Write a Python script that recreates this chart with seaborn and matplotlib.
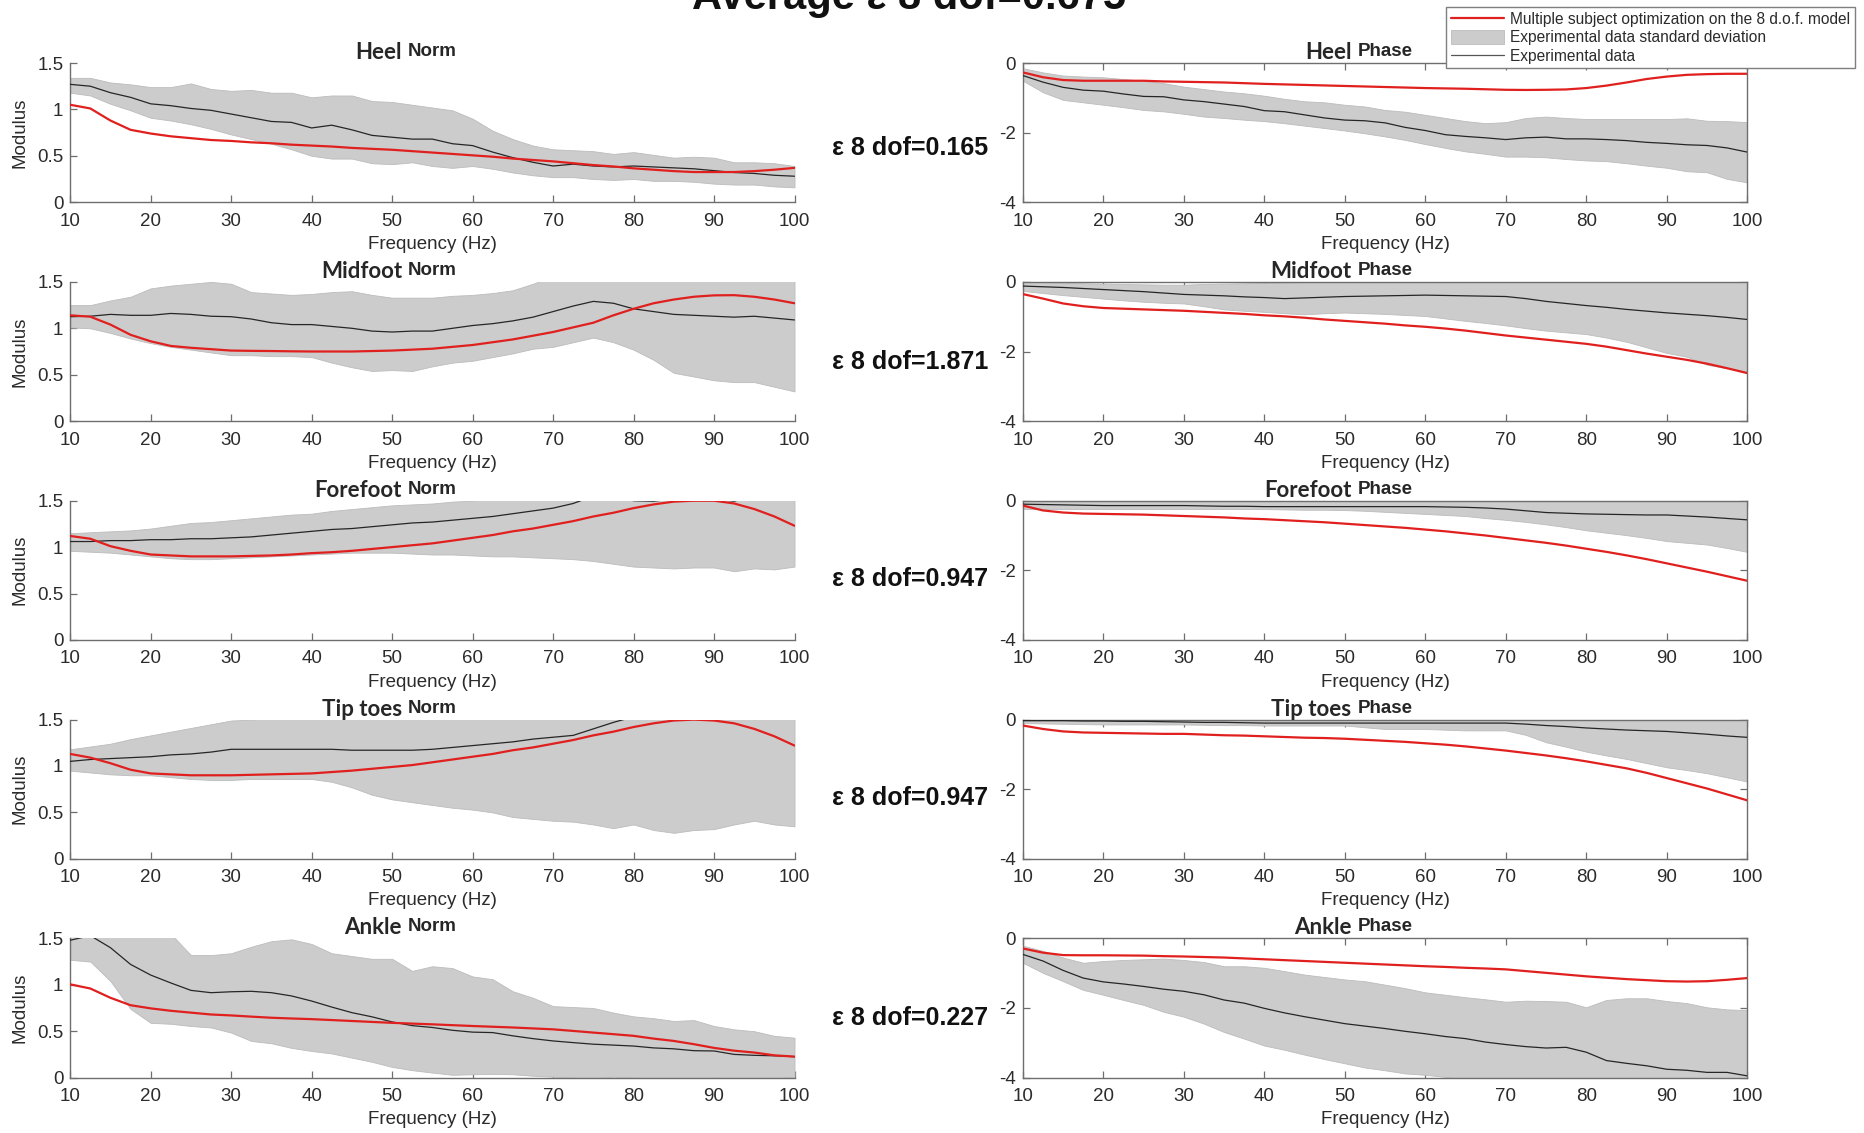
import matplotlib
matplotlib.use("Agg")
import matplotlib.pyplot as plt
from matplotlib.lines import Line2D
from matplotlib.patches import Patch
import pandas as pd
import seaborn as sns

# ---------------------------------------------------------------- data
freq = [10, 12.5, 15, 17.5, 20, 22.5, 25, 27.5, 30, 32.5, 35, 37.5, 40, 42.5,
        45, 47.5, 50, 52.5, 55, 57.5, 60, 62.5, 65, 67.5, 70, 72.5, 75, 77.5,
        80, 82.5, 85, 87.5, 90, 92.5, 95, 97.5, 100]

regions = ["Heel", "Midfoot", "Forefoot", "Tip toes", "Ankle"]
eps_values = ["0.165", "1.871", "0.947", "0.947", "0.227"]
eps_average = "0.675"

# Heel
heel_norm_mean = [1.27, 1.25, 1.18, 1.13, 1.06, 1.04, 1.01, 0.99, 0.95, 0.91, 0.87, 0.86, 0.80, 0.83, 0.78, 0.72, 0.70, 0.68, 0.68, 0.63, 0.61, 0.54, 0.48, 0.43, 0.39, 0.41, 0.39, 0.38, 0.39, 0.38, 0.37, 0.36, 0.34, 0.32, 0.31, 0.29, 0.28]
heel_norm_hi = [1.34, 1.34, 1.29, 1.27, 1.24, 1.24, 1.28, 1.22, 1.20, 1.21, 1.18, 1.18, 1.13, 1.15, 1.15, 1.09, 1.08, 1.05, 1.02, 0.99, 0.90, 0.77, 0.68, 0.61, 0.57, 0.56, 0.55, 0.52, 0.54, 0.51, 0.48, 0.49, 0.48, 0.43, 0.43, 0.42, 0.39]
heel_norm_lo = [1.18, 1.15, 1.06, 0.99, 0.91, 0.88, 0.84, 0.79, 0.73, 0.68, 0.63, 0.57, 0.50, 0.47, 0.47, 0.42, 0.41, 0.43, 0.39, 0.37, 0.39, 0.36, 0.32, 0.29, 0.27, 0.27, 0.25, 0.24, 0.25, 0.23, 0.23, 0.22, 0.20, 0.19, 0.19, 0.17, 0.16]
heel_norm_model = [1.05, 1.01, 0.88, 0.78, 0.74, 0.71, 0.69, 0.67, 0.66, 0.645, 0.635, 0.62, 0.61, 0.60, 0.585, 0.575, 0.565, 0.55, 0.535, 0.52, 0.505, 0.49, 0.47, 0.455, 0.44, 0.42, 0.40, 0.385, 0.365, 0.35, 0.335, 0.325, 0.325, 0.325, 0.335, 0.35, 0.37]
heel_phase_mean = [-0.36, -0.55, -0.70, -0.78, -0.81, -0.89, -0.96, -0.97, -1.06, -1.11, -1.18, -1.25, -1.37, -1.40, -1.49, -1.58, -1.64, -1.66, -1.72, -1.85, -1.94, -2.06, -2.11, -2.15, -2.20, -2.15, -2.13, -2.18, -2.18, -2.20, -2.23, -2.28, -2.31, -2.35, -2.37, -2.44, -2.56]
heel_phase_hi = [-0.15, -0.27, -0.36, -0.39, -0.41, -0.46, -0.51, -0.58, -0.68, -0.75, -0.82, -0.87, -0.94, -1.03, -1.10, -1.13, -1.20, -1.25, -1.35, -1.40, -1.49, -1.58, -1.67, -1.73, -1.70, -1.58, -1.54, -1.58, -1.61, -1.61, -1.61, -1.61, -1.61, -1.59, -1.66, -1.67, -1.70]
heel_phase_lo = [-0.51, -0.84, -1.06, -1.13, -1.20, -1.27, -1.35, -1.39, -1.46, -1.54, -1.58, -1.63, -1.67, -1.73, -1.80, -1.87, -1.94, -2.02, -2.11, -2.21, -2.33, -2.44, -2.54, -2.61, -2.69, -2.69, -2.71, -2.76, -2.80, -2.82, -2.88, -2.95, -3.01, -3.11, -3.14, -3.33, -3.43]
heel_phase_model = [-0.27, -0.41, -0.49, -0.51, -0.51, -0.51, -0.51, -0.53, -0.54, -0.55, -0.56, -0.58, -0.60, -0.615, -0.63, -0.645, -0.66, -0.675, -0.69, -0.705, -0.72, -0.73, -0.74, -0.755, -0.77, -0.775, -0.77, -0.76, -0.72, -0.65, -0.56, -0.46, -0.39, -0.34, -0.32, -0.31, -0.31]

# Midfoot
midfoot_norm_mean = [1.125, 1.13, 1.15, 1.14, 1.14, 1.16, 1.15, 1.13, 1.125, 1.10, 1.06, 1.04, 1.04, 1.02, 1.00, 0.97, 0.96, 0.97, 0.97, 1.00, 1.03, 1.05, 1.08, 1.12, 1.18, 1.24, 1.29, 1.27, 1.21, 1.18, 1.15, 1.14, 1.13, 1.12, 1.13, 1.11, 1.09]
midfoot_norm_hi = [1.25, 1.25, 1.30, 1.34, 1.43, 1.46, 1.48, 1.50, 1.48, 1.39, 1.375, 1.36, 1.37, 1.39, 1.40, 1.36, 1.33, 1.33, 1.33, 1.35, 1.36, 1.38, 1.41, 1.48, 1.56, 1.62, 1.66, 1.68, 1.70, 1.70, 1.70, 1.70, 1.70, 1.68, 1.66, 1.64, 1.62]
midfoot_norm_lo = [1.01, 1.00, 0.95, 0.89, 0.84, 0.80, 0.77, 0.74, 0.71, 0.71, 0.70, 0.70, 0.69, 0.63, 0.58, 0.54, 0.55, 0.54, 0.59, 0.63, 0.65, 0.69, 0.73, 0.78, 0.80, 0.85, 0.90, 0.85, 0.77, 0.66, 0.52, 0.48, 0.44, 0.42, 0.42, 0.37, 0.32]
midfoot_norm_model = [1.14, 1.125, 1.04, 0.93, 0.86, 0.81, 0.79, 0.775, 0.76, 0.757, 0.755, 0.752, 0.75, 0.75, 0.75, 0.755, 0.76, 0.77, 0.78, 0.80, 0.82, 0.85, 0.88, 0.92, 0.96, 1.01, 1.06, 1.14, 1.21, 1.27, 1.31, 1.34, 1.355, 1.357, 1.34, 1.31, 1.27]
midfoot_phase_mean = [-0.12, -0.14, -0.16, -0.19, -0.22, -0.25, -0.28, -0.32, -0.36, -0.38, -0.40, -0.43, -0.45, -0.48, -0.46, -0.44, -0.42, -0.41, -0.40, -0.39, -0.38, -0.39, -0.40, -0.41, -0.42, -0.48, -0.56, -0.62, -0.68, -0.73, -0.79, -0.84, -0.89, -0.93, -0.97, -1.02, -1.08]
midfoot_phase_hi = [0.02, 0.0, -0.02, -0.04, -0.05, -0.06, -0.07, -0.08, -0.08, -0.06, -0.05, -0.04, -0.03, -0.02, 0.0, 0.02, 0.03, 0.04, 0.05, 0.05, 0.05, 0.06, 0.05, 0.05, 0.06, 0.05, 0.05, 0.06, 0.05, 0.05, 0.06, 0.05, 0.05, 0.06, 0.05, 0.05, 0.05]
midfoot_phase_lo = [-0.26, -0.32, -0.38, -0.43, -0.48, -0.53, -0.57, -0.60, -0.62, -0.70, -0.79, -0.83, -0.86, -0.90, -0.93, -0.90, -0.88, -0.90, -0.92, -0.95, -0.98, -1.05, -1.12, -1.18, -1.25, -1.33, -1.40, -1.45, -1.50, -1.60, -1.72, -1.88, -2.04, -2.15, -2.38, -2.48, -2.58]
midfoot_phase_model = [-0.35, -0.48, -0.62, -0.70, -0.75, -0.77, -0.79, -0.81, -0.83, -0.86, -0.89, -0.92, -0.96, -0.99, -1.03, -1.08, -1.12, -1.16, -1.20, -1.25, -1.29, -1.34, -1.40, -1.47, -1.54, -1.60, -1.66, -1.72, -1.78, -1.86, -1.96, -2.06, -2.15, -2.24, -2.35, -2.48, -2.62]

# Forefoot
forefoot_norm_mean = [1.06, 1.06, 1.07, 1.07, 1.08, 1.08, 1.09, 1.09, 1.10, 1.11, 1.13, 1.15, 1.17, 1.19, 1.20, 1.22, 1.24, 1.26, 1.27, 1.29, 1.31, 1.33, 1.36, 1.39, 1.42, 1.47, 1.55, 1.58, 1.50, 1.495, 1.52, 1.53, 1.52, 1.495, 1.55, 1.58, 1.60]
forefoot_norm_hi = [1.15, 1.16, 1.17, 1.18, 1.20, 1.23, 1.26, 1.27, 1.29, 1.31, 1.33, 1.35, 1.36, 1.39, 1.41, 1.43, 1.45, 1.46, 1.47, 1.49, 1.50, 1.53, 1.57, 1.60, 1.64, 1.68, 1.72, 1.75, 1.78, 1.80, 1.80, 1.80, 1.80, 1.80, 1.80, 1.80, 1.80]
forefoot_norm_lo = [0.96, 0.95, 0.94, 0.92, 0.90, 0.88, 0.87, 0.87, 0.88, 0.89, 0.90, 0.91, 0.92, 0.93, 0.94, 0.94, 0.94, 0.93, 0.92, 0.92, 0.91, 0.90, 0.90, 0.89, 0.88, 0.87, 0.85, 0.82, 0.79, 0.78, 0.77, 0.78, 0.78, 0.74, 0.77, 0.76, 0.79]
forefoot_norm_model = [1.12, 1.09, 1.01, 0.96, 0.92, 0.91, 0.90, 0.90, 0.90, 0.905, 0.91, 0.92, 0.935, 0.945, 0.96, 0.98, 1.00, 1.02, 1.04, 1.07, 1.10, 1.13, 1.17, 1.20, 1.24, 1.28, 1.33, 1.37, 1.42, 1.46, 1.49, 1.50, 1.50, 1.47, 1.41, 1.33, 1.23]
forefoot_phase_mean = [-0.10, -0.11, -0.12, -0.13, -0.14, -0.14, -0.14, -0.14, -0.14, -0.15, -0.16, -0.16, -0.17, -0.17, -0.17, -0.17, -0.17, -0.17, -0.17, -0.17, -0.17, -0.18, -0.19, -0.21, -0.24, -0.29, -0.34, -0.36, -0.38, -0.39, -0.40, -0.41, -0.41, -0.44, -0.47, -0.51, -0.55]
forefoot_phase_hi = [0.03, 0.03, 0.03, 0.02, 0.03, 0.03, 0.02, 0.03, 0.03, 0.03, 0.02, 0.03, 0.03, 0.03, 0.02, 0.03, 0.03, 0.03, 0.02, 0.03, 0.03, 0.03, 0.02, 0.03, 0.03, 0.03, 0.02, 0.03, 0.03, 0.03, 0.02, 0.03, 0.03, 0.03, 0.02, 0.03, 0.03]
forefoot_phase_lo = [-0.24, -0.24, -0.24, -0.24, -0.24, -0.24, -0.24, -0.24, -0.24, -0.24, -0.24, -0.24, -0.24, -0.25, -0.26, -0.26, -0.27, -0.29, -0.32, -0.35, -0.38, -0.41, -0.44, -0.50, -0.55, -0.61, -0.68, -0.76, -0.85, -0.92, -0.99, -1.07, -1.16, -1.21, -1.26, -1.36, -1.47]
forefoot_phase_model = [-0.14, -0.28, -0.34, -0.37, -0.38, -0.39, -0.40, -0.42, -0.44, -0.46, -0.48, -0.51, -0.53, -0.56, -0.59, -0.62, -0.66, -0.70, -0.74, -0.78, -0.83, -0.88, -0.94, -1.00, -1.07, -1.14, -1.21, -1.29, -1.38, -1.47, -1.57, -1.68, -1.80, -1.92, -2.04, -2.17, -2.30]

# Tip toes
tiptoes_norm_mean = [1.05, 1.07, 1.08, 1.09, 1.10, 1.12, 1.13, 1.15, 1.18, 1.18, 1.18, 1.18, 1.18, 1.18, 1.17, 1.17, 1.17, 1.17, 1.18, 1.20, 1.22, 1.24, 1.26, 1.29, 1.31, 1.33, 1.40, 1.47, 1.53, 1.58, 1.62, 1.66, 1.70, 1.72, 1.74, 1.76, 1.78]
tiptoes_norm_hi = [1.18, 1.21, 1.24, 1.29, 1.33, 1.37, 1.41, 1.45, 1.49, 1.50, 1.52, 1.55, 1.60, 1.64, 1.68, 1.72, 1.76, 1.80, 1.84, 1.88, 1.92, 1.95, 1.98, 2.00, 2.02, 2.05, 2.08, 2.10, 2.12, 2.14, 2.16, 2.18, 2.20, 2.20, 2.20, 2.20, 2.20]
tiptoes_norm_lo = [0.95, 0.93, 0.91, 0.90, 0.90, 0.88, 0.86, 0.85, 0.85, 0.86, 0.86, 0.86, 0.86, 0.83, 0.77, 0.69, 0.64, 0.61, 0.58, 0.55, 0.53, 0.50, 0.45, 0.43, 0.41, 0.40, 0.37, 0.33, 0.37, 0.31, 0.28, 0.31, 0.32, 0.37, 0.41, 0.37, 0.35]
tiptoes_norm_model = [1.13, 1.09, 1.03, 0.96, 0.92, 0.91, 0.90, 0.90, 0.90, 0.905, 0.91, 0.915, 0.92, 0.935, 0.95, 0.97, 0.99, 1.01, 1.04, 1.07, 1.10, 1.13, 1.17, 1.20, 1.24, 1.28, 1.33, 1.37, 1.42, 1.46, 1.49, 1.50, 1.49, 1.46, 1.40, 1.32, 1.22]
tiptoes_phase_mean = [-0.03, -0.03, -0.03, -0.04, -0.04, -0.05, -0.05, -0.06, -0.07, -0.08, -0.08, -0.09, -0.10, -0.10, -0.10, -0.10, -0.10, -0.10, -0.10, -0.10, -0.10, -0.10, -0.10, -0.10, -0.10, -0.13, -0.17, -0.20, -0.24, -0.27, -0.30, -0.32, -0.34, -0.38, -0.42, -0.47, -0.51]
tiptoes_phase_hi = [0.03, 0.03, 0.02, 0.03, 0.03, 0.03, 0.02, 0.03, 0.03, 0.02, 0.03, 0.03, 0.03, 0.02, 0.03, 0.03, 0.03, 0.02, 0.03, 0.03, 0.03, 0.02, 0.03, 0.03, 0.03, 0.02, 0.03, 0.03, 0.03, 0.02, 0.03, 0.03, 0.03, 0.02, 0.03, 0.03, 0.03]
tiptoes_phase_lo = [-0.10, -0.11, -0.12, -0.13, -0.14, -0.14, -0.14, -0.14, -0.14, -0.15, -0.16, -0.16, -0.17, -0.17, -0.17, -0.17, -0.17, -0.22, -0.27, -0.27, -0.27, -0.29, -0.31, -0.31, -0.31, -0.44, -0.65, -0.78, -0.92, -1.03, -1.13, -1.25, -1.37, -1.45, -1.54, -1.66, -1.78]
tiptoes_phase_model = [-0.17, -0.27, -0.34, -0.37, -0.38, -0.39, -0.40, -0.41, -0.41, -0.43, -0.45, -0.46, -0.48, -0.50, -0.52, -0.53, -0.55, -0.58, -0.61, -0.64, -0.68, -0.72, -0.77, -0.83, -0.89, -0.96, -1.03, -1.11, -1.20, -1.30, -1.40, -1.53, -1.68, -1.83, -1.98, -2.15, -2.32]

# Ankle
ankle_norm_mean = [1.48, 1.53, 1.40, 1.22, 1.105, 1.02, 0.94, 0.915, 0.925, 0.93, 0.915, 0.88, 0.825, 0.76, 0.70, 0.655, 0.60, 0.56, 0.54, 0.51, 0.49, 0.485, 0.45, 0.42, 0.395, 0.377, 0.36, 0.35, 0.34, 0.32, 0.31, 0.29, 0.287, 0.25, 0.24, 0.235, 0.226]
ankle_norm_hi = [1.55, 1.60, 1.60, 1.60, 1.60, 1.55, 1.32, 1.32, 1.34, 1.41, 1.47, 1.49, 1.44, 1.34, 1.31, 1.28, 1.28, 1.15, 1.20, 1.18, 1.09, 1.06, 0.93, 0.86, 0.77, 0.76, 0.75, 0.70, 0.66, 0.64, 0.61, 0.62, 0.556, 0.52, 0.50, 0.45, 0.43]
ankle_norm_lo = [1.27, 1.25, 1.04, 0.74, 0.59, 0.58, 0.556, 0.54, 0.485, 0.395, 0.37, 0.32, 0.287, 0.26, 0.215, 0.17, 0.115, 0.08, 0.054, 0.03, 0.036, 0.04, 0.036, 0.02, 0.01, 0.0, -0.01, 0.01, 0.0, -0.01, -0.02, -0.01, 0.0, -0.01, -0.02, -0.01, 0.01]
ankle_norm_model = [1.005, 0.96, 0.86, 0.78, 0.746, 0.72, 0.70, 0.68, 0.67, 0.657, 0.645, 0.637, 0.63, 0.62, 0.61, 0.60, 0.59, 0.582, 0.574, 0.565, 0.556, 0.548, 0.54, 0.53, 0.52, 0.503, 0.485, 0.468, 0.45, 0.42, 0.395, 0.36, 0.32, 0.29, 0.27, 0.24, 0.226]
ankle_phase_mean = [-0.46, -0.65, -0.92, -1.14, -1.25, -1.31, -1.38, -1.46, -1.52, -1.62, -1.77, -1.86, -2.01, -2.14, -2.25, -2.35, -2.45, -2.52, -2.59, -2.67, -2.74, -2.82, -2.88, -2.98, -3.05, -3.11, -3.15, -3.13, -3.27, -3.51, -3.59, -3.66, -3.76, -3.79, -3.85, -3.85, -3.95]
ankle_phase_hi = [-0.21, -0.36, -0.55, -0.70, -0.65, -0.62, -0.60, -0.58, -0.62, -0.68, -0.80, -0.80, -0.845, -0.94, -1.04, -1.11, -1.18, -1.23, -1.33, -1.43, -1.55, -1.62, -1.69, -1.75, -1.82, -1.79, -1.80, -1.82, -1.98, -1.77, -1.72, -1.72, -1.80, -1.86, -1.98, -2.04, -2.06]
ankle_phase_lo = [-0.70, -0.99, -1.23, -1.48, -1.62, -1.77, -1.91, -2.11, -2.25, -2.45, -2.69, -2.88, -3.08, -3.20, -3.34, -3.47, -3.59, -3.71, -3.79, -3.88, -3.92, -3.98, -4.05, -4.10, -4.15, -4.20, -4.25, -4.30, -4.35, -4.40, -4.45, -4.50, -4.55, -4.60, -4.60, -4.60, -4.60]
ankle_phase_model = [-0.29, -0.41, -0.48, -0.485, -0.485, -0.49, -0.495, -0.51, -0.52, -0.535, -0.55, -0.575, -0.60, -0.625, -0.65, -0.675, -0.70, -0.725, -0.75, -0.775, -0.80, -0.82, -0.845, -0.865, -0.89, -0.94, -0.99, -1.04, -1.09, -1.13, -1.17, -1.20, -1.23, -1.24, -1.23, -1.19, -1.14]

norm_series = [
    (heel_norm_mean, heel_norm_lo, heel_norm_hi, heel_norm_model),
    (midfoot_norm_mean, midfoot_norm_lo, midfoot_norm_hi, midfoot_norm_model),
    (forefoot_norm_mean, forefoot_norm_lo, forefoot_norm_hi, forefoot_norm_model),
    (tiptoes_norm_mean, tiptoes_norm_lo, tiptoes_norm_hi, tiptoes_norm_model),
    (ankle_norm_mean, ankle_norm_lo, ankle_norm_hi, ankle_norm_model),
]
phase_series = [
    (heel_phase_mean, heel_phase_lo, heel_phase_hi, heel_phase_model),
    (midfoot_phase_mean, midfoot_phase_lo, midfoot_phase_hi, midfoot_phase_model),
    (forefoot_phase_mean, forefoot_phase_lo, forefoot_phase_hi, forefoot_phase_model),
    (tiptoes_phase_mean, tiptoes_phase_lo, tiptoes_phase_hi, tiptoes_phase_model),
    (ankle_phase_mean, ankle_phase_lo, ankle_phase_hi, ankle_phase_model),
]

# ---------------------------------------------------------------- style
sns.set_theme(style="white")
plt.rcParams["font.family"] = ["Liberation Sans", "DejaVu Sans"]
plt.rcParams["axes.unicode_minus"] = False

RED = "#e0201e"
BLACK = "#262626"
BAND = "#cccccc"
BAND_EDGE = "#bcbcbc"
SPINE = "#6e6e6e"
TEXT = "#2b2b2b"

W, H = 1865, 1133
fig = plt.figure(figsize=(W / 100, H / 100), dpi=100, facecolor="white")

ax_w = 724.3 / W
ax_h = 139.2 / H
left_x0 = 70.2 / W
right_x0 = 1022.9 / W
row_tops = [63.0, 281.9, 500.7, 719.6, 938.4]
eps_y = [147.5, 361.6, 579.2, 798.0, 1018.0]


def draw_panel(ax, series, ylim, yticks, yticklabels, boxed):
    mean, lo, hi, model = series
    df = pd.DataFrame({"freq": freq, "mean": mean, "lo": lo, "hi": hi, "model": model})
    ax.fill_between(df["freq"], df["lo"], df["hi"], facecolor=BAND,
                    edgecolor=BAND_EDGE, linewidth=0.6, zorder=1)
    sns.lineplot(data=df, x="freq", y="mean", ax=ax, color=BLACK,
                 linewidth=0.9, zorder=3)
    sns.lineplot(data=df, x="freq", y="model", ax=ax, color=RED,
                 linewidth=1.6, zorder=4)
    ax.set_xlim(10, 100)
    ax.set_ylim(*ylim)
    ax.set_xticks(range(10, 101, 10))
    ax.set_yticks(yticks)
    ax.set_yticklabels(yticklabels)
    ax.set_xlabel("Frequency (Hz)", fontsize=13.5, color=TEXT, labelpad=4.5)
    for side, sp in ax.spines.items():
        sp.set_color(SPINE)
        sp.set_linewidth(1.0)
        if not boxed and side in ("top", "right"):
            sp.set_visible(False)
    ax.tick_params(axis="both", which="both", direction="in", length=5,
                   width=0.9, color=SPINE, labelsize=13.5, labelcolor=TEXT,
                   top=boxed, right=boxed, bottom=True, left=True,
                   labeltop=False, labelright=False)
    ax.tick_params(axis="x", pad=7.5)
    ax.tick_params(axis="y", pad=5)
    ax.set_facecolor("white")


for i, region in enumerate(regions):
    bottom = 1 - (row_tops[i] + 139.2) / H

    # modulus panel
    axn = fig.add_axes([left_x0, bottom, ax_w, ax_h])
    draw_panel(axn, norm_series[i], (0, 1.5), [0, 0.5, 1, 1.5],
               ["0", "0.5", "1", "1.5"], boxed=False)
    axn.set_ylabel("Modulus", fontsize=13.5, color=TEXT, labelpad=6)
    tn = axn.set_title("Norm", fontsize=13.5, fontweight="bold", pad=5)
    axn.annotate(region, xy=(0, 0), xycoords=tn, xytext=(-6, -3),
                 textcoords="offset pixels", ha="right", va="bottom",
                 fontsize=16, fontweight="bold", family=["Lato", "DejaVu Sans"])

    # phase panel
    axp = fig.add_axes([right_x0, bottom, ax_w, ax_h])
    draw_panel(axp, phase_series[i], (-4, 0), [-4, -2, 0],
               ["-4", "-2", "0"], boxed=True)
    axp.set_ylabel("")
    tp = axp.set_title("Phase", fontsize=13.5, fontweight="bold", pad=5)
    axp.annotate(region, xy=(0, 0), xycoords=tp, xytext=(-6, -3),
                 textcoords="offset pixels", ha="right", va="bottom",
                 fontsize=16, fontweight="bold", family=["Lato", "DejaVu Sans"])

    # per-row error
    fig.text(910 / W, 1 - eps_y[i] / H, f"\u03b5 8 dof={eps_values[i]}",
             ha="center", va="center", fontsize=18, fontweight="bold",
             color="#111111")

# overall title
fig.text(909 / W, 1 - 9 / H, f"Average \u03b5 8 dof={eps_average}",
         ha="center", va="baseline", fontsize=30, fontweight="bold",
         color="#111111")

# legend
handles = [
    Line2D([], [], color=RED, linewidth=1.6),
    Patch(facecolor=BAND, edgecolor=BAND_EDGE, linewidth=0.6),
    Line2D([], [], color="#555555", linewidth=0.9),
]
labels = [
    "Multiple subject optimization on the 8 d.o.f. model",
    "Experimental data standard deviation",
    "Experimental data",
]
leg = fig.legend(handles, labels, loc="upper right",
                 bbox_to_anchor=(1855 / W, 1 - 7 / H), frameon=True,
                 fancybox=False, framealpha=1, edgecolor="#7f7f7f",
                 fontsize=11.2, handlelength=3.4, handleheight=0.95,
                 handletextpad=0.4, labelspacing=0.22, borderpad=0.3,
                 borderaxespad=0)
leg.get_frame().set_linewidth(1.0)
for t in leg.get_texts():
    t.set_color(TEXT)

fig.savefig("out.png", dpi=100, facecolor="white")
